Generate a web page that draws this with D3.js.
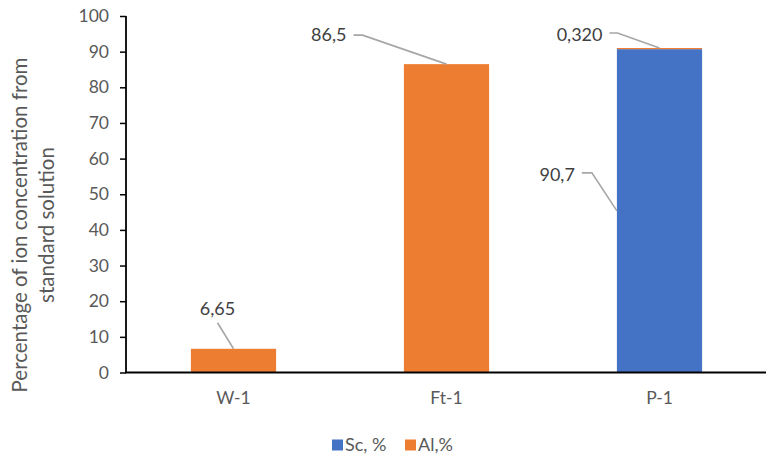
<!DOCTYPE html>
<html>
<head>
<meta charset="utf-8">
<script src="https://cdn.jsdelivr.net/npm/d3@7"></script>
<style>
  html, body { margin: 0; padding: 0; background: #fff; }
  svg { display: block; font-family: Lato, "Open Sans", sans-serif; }
</style>
</head>
<body>
<svg id="chart" width="766" height="456"></svg>
<script>
// Samples along the x axis
const categories = ["W-1", "Ft-1", "P-1"];
// Stacked series: Sc at the bottom, Al on top
const scValues = [0, 0, 90.7];
const alValues = [6.65, 86.5, 0.320];
const seriesNames = ["Sc, %", "Al,%"];
const yTicks = [0, 10, 20, 30, 40, 50, 60, 70, 80, 90, 100];
const yTitleLines = ["Percentage of ion concentration from", "standard solution"];

const colors = { "Sc, %": "#4472C4", "Al,%": "#ED7D31" };

const svg = d3.select("#chart");

const x = d3.scaleBand()
  .domain(categories)
  .range([127, 766])
  .paddingInner(0.6)
  .paddingOuter(0.3);

const y = d3.scaleLinear().domain([0, 100]).range([372.5, 16]);

const rows = categories.map((c, i) => ({ cat: c, "Sc, %": scValues[i], "Al,%": alValues[i] }));
const stacked = d3.stack().keys(seriesNames)(rows);

// Bars
svg.append("g").selectAll("g")
  .data(stacked)
  .join("g")
  .attr("fill", d => colors[d.key])
  .selectAll("rect")
  .data(d => d.filter(p => p[1] - p[0] > 0))
  .join("rect")
  .attr("x", d => x(d.data.cat))
  .attr("width", x.bandwidth())
  .attr("y", d => y(d[1]))
  .attr("height", d => y(d[0]) - y(d[1]));

// Y axis
const yAxis = d3.axisLeft(y).tickValues(yTicks).tickSize(6).tickPadding(11);
const gy = svg.append("g").attr("transform", "translate(126,0)").call(yAxis);
gy.select(".domain").attr("stroke", "#000").attr("stroke-width", 1.8).attr("d", `M0,${y(100)}V${y(0)}`);
gy.selectAll(".tick line").attr("stroke", "#000").attr("stroke-width", 1.5);
gy.selectAll(".tick text")
  .attr("fill", "#595959")
  .style("font-size", "17.5px")
  .style("font-family", "Lato, sans-serif");

// X axis
const xAxis = d3.axisBottom(x).tickSize(0).tickPadding(19);
const gx = svg.append("g").attr("transform", `translate(0,${y(0)})`).call(xAxis);
gx.select(".domain").attr("stroke", "#000").attr("stroke-width", 1.8).attr("d", "M125,0H766");
gx.selectAll(".tick text")
  .attr("fill", "#595959")
  .style("font-size", "17.5px")
  .style("font-family", "Lato, sans-serif");

// Y axis title
const title = svg.append("g").attr("transform", "translate(20,225) rotate(-90)");
yTitleLines.forEach((line, i) => {
  title.append("text")
    .attr("x", 0)
    .attr("y", i * 27)
    .attr("dy", "0.35em")
    .attr("text-anchor", "middle")
    .attr("fill", "#595959")
    .style("font-size", "20.5px")
    .text(line);
});

// Data labels with leader lines
const fmt = d3.formatLocale({ decimal: ",", thousands: " ", grouping: [3], currency: ["", ""] }).format(".3r");
const cx = c => x(c) + x.bandwidth() / 2;

const labels = [
  // W-1, Al
  { v: alValues[0], ax: cx("W-1"), ay: y(alValues[0]),
    pts: [[-16, -26]], tx: -16, ty: -40, anchor: "middle" },
  // Ft-1, Al
  { v: alValues[1], ax: cx("Ft-1"), ay: y(alValues[1]),
    pts: [[-84, -29], [-93, -29]], tx: -100, ty: -29, anchor: "end" },
  // P-1, Al
  { v: alValues[2], ax: cx("P-1"), ay: y(scValues[2] + alValues[2]),
    pts: [[-42, -15], [-50, -15]], tx: -57, ty: -13, anchor: "end" },
  // P-1, Sc
  { v: scValues[2], ax: x("P-1"), ay: y(scValues[2] / 2),
    pts: [[-25, -38], [-35, -38]], tx: -42, ty: -36, anchor: "end" }
];

const lg = svg.append("g");
labels.forEach(l => {
  const path = d3.path();
  path.moveTo(l.ax, l.ay);
  l.pts.forEach(p => path.lineTo(l.ax + p[0], l.ay + p[1]));
  lg.append("path")
    .attr("d", path.toString())
    .attr("fill", "none")
    .attr("stroke", "#a6a6a6")
    .attr("stroke-width", 1.6);
  lg.append("text")
    .attr("x", l.ax + l.tx)
    .attr("y", l.ay + l.ty)
    .attr("dy", "0.35em")
    .attr("text-anchor", l.anchor)
    .attr("fill", "#404040")
    .style("font-size", "18px")
    .text(fmt(l.v));
});

// Legend
const legend = svg.append("g").attr("transform", "translate(332,445)");
const legendX = [0, 73];
seriesNames.forEach((name, i) => {
  const g = legend.append("g").attr("transform", `translate(${legendX[i]},0)`);
  g.append("rect").attr("x", 0).attr("y", -5.5).attr("width", 11).attr("height", 11).attr("fill", colors[name]);
  g.append("text")
    .attr("x", 13)
    .attr("y", 0)
    .attr("dy", "0.35em")
    .attr("fill", "#595959")
    .style("font-size", "18px")
    .text(name);
});
</script>
</body>
</html>
